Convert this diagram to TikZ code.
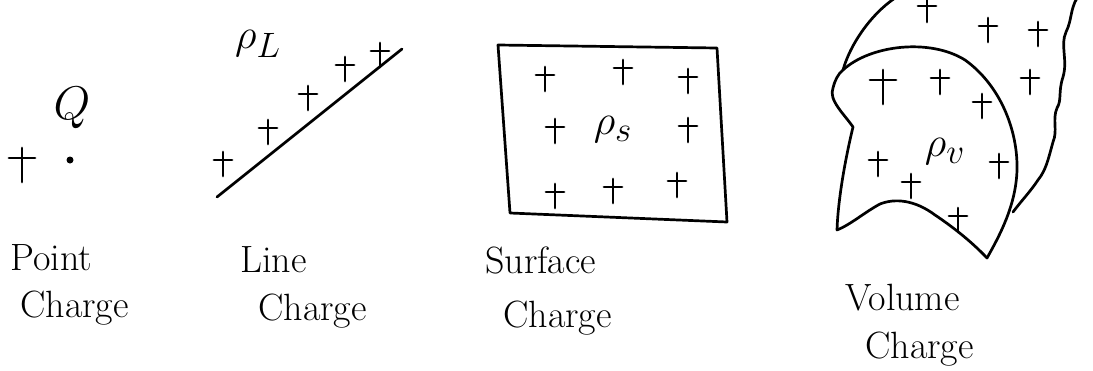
\documentclass[tikz,border=0pt]{standalone}
\usepackage{graphicx}
\usetikzlibrary{calc}
\newcommand\bigmath[2]{\scalebox{#1}{\Huge$#2$}}
\tikzset{
  ink/.style={line width=2.7pt, line cap=round, line join=round, black},
  lbl/.style={font=\fontsize{38}{40}\selectfont, inner sep=0pt, anchor=base west},
  sym/.style={inner sep=0pt},
  chg/.pic={\draw[ink] (-9,0)--(9,0) (0,-8)--(0,16);},
  bigchg/.pic={\draw[ink] (-13,0)--(13,0) (0,-10)--(0,24);}
}
\begin{document}
\begin{tikzpicture}[x=1pt,y=-1pt]
\useasboundingbox (0,0) rectangle (1093,370);
% ---------- Point charge
\pic at (22,158) {bigchg};
\fill (70,160) circle (3.5);
\node[sym] (q) at (72,108) {\bigmath{1.9}{Q}};
\node[lbl] (pt1) at (10,270) {Point};
\node[lbl] (pt2) at (20,317) {Charge};
% ---------- Line charge
\coordinate (la) at (217,197);
\coordinate (lb) at (402,49);
\draw[ink] (la) -- (lb);
\pic at (223,160) {chg};
\pic at (268,128) {chg};
\pic at (308,94) {chg};
\pic at (345,65) {chg};
\pic at (380,51) {chg};
\node[sym] (rl) at (258,44) {\bigmath{1.7}{\rho_L}};
\node[lbl] (lc1) at (240,272) {Line};
\node[lbl] (lc2) at (258,320) {Charge};
% ---------- Surface charge
\draw[ink] (498,45) -- (717,48) -- (727,222) -- (510,213) -- cycle;
\pic at (545,75) {chg};
\pic at (623,68) {chg};
\pic at (688,77) {chg};
\pic at (555,127) {chg};
\pic at (688,126) {chg};
\pic at (555,192) {chg};
\pic at (613,187) {chg};
\pic at (677,181) {chg};
\node[sym] (rs) at (613,130) {\bigmath{1.7}{\rho_s}};
\node[lbl] (sc1) at (485,273) {Surface};
\node[lbl] (sc2) at (503,327) {Charge};
% ---------- Volume charge
% back shape
\draw[ink] (843,70) .. controls (850,45) and (870,15) .. (895,-2);
\draw[ink] (1077,-2) .. controls (1070,10) and (1072,20) .. (1066,32)
  .. controls (1060,45) and (1068,60) .. (1063,77)
  .. controls (1058,92) and (1062,100) .. (1057,108)
  .. controls (1052,120) and (1058,130) .. (1053,142)
  .. controls (1048,160) and (1046,170) .. (1038,180)
  .. controls (1030,192) and (1022,200) .. (1013,212);
% front shape
\draw[ink] (843,70) .. controls (870,45) and (930,38) .. (965,60)
  .. controls (1000,85) and (1018,130) .. (1017,170)
  .. controls (1016,205) and (1000,235) .. (987,258)
  .. controls (970,240) and (950,225) .. (935,215)
  .. controls (915,200) and (895,198) .. (880,204)
  .. controls (865,212) and (850,225) .. (837,230)
  .. controls (838,200) and (845,160) .. (853,127)
  .. controls (845,115) and (828,100) .. (833,88)
  .. controls (835,80) and (838,74) .. (843,70) -- cycle;
\pic at (927,6) {chg};
\pic at (988,26) {chg};
\pic at (1038,30) {chg};
\pic at (1030,78) {chg};
\pic at (883,80) {bigchg};
\pic at (940,78) {chg};
\pic at (982,102) {chg};
\pic at (878,160) {chg};
\pic at (911,182) {chg};
\pic at (999,162) {chg};
\pic at (958,216) {chg};
\node[sym] (rv) at (945,152) {\bigmath{1.7}{\rho_v}};
\node[lbl] (vc1) at (845,310) {Volume};
\node[lbl] (vc2) at (865,358) {Charge};
\end{tikzpicture}
\end{document}
